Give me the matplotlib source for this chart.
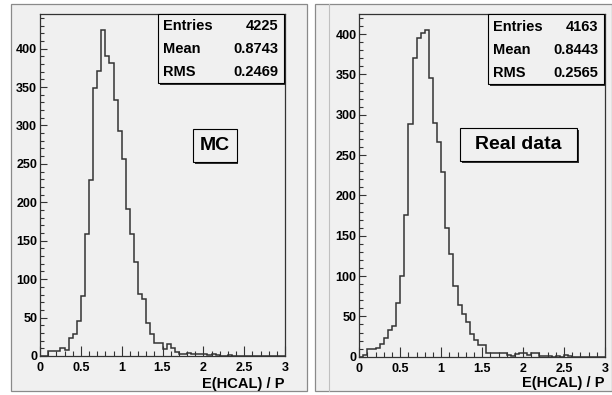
import numpy as np
import matplotlib
matplotlib.use("Agg")
import matplotlib.pyplot as plt
from matplotlib.patches import Rectangle
from matplotlib.ticker import MultipleLocator, FormatStrFormatter

# helvetica-like bold text, as in the ROOT canvas
plt.rcParams["font.family"] = ["Liberation Sans", "DejaVu Sans"]
plt.rcParams["font.weight"] = "bold"

# 60 bins of 0.05 between 0 and 3
bin_edges = np.linspace(0, 3, 61)

mc_counts = [0, 0, 6, 6, 6, 11, 8, 24, 29, 45,
             78, 159, 229, 349, 371, 424, 390, 381, 333, 293,
             256, 191, 159, 122, 81, 74, 43, 29, 17, 17,
             9, 16, 10, 5, 3, 3, 4, 2, 3, 2,
             3, 1, 2, 1, 0, 0, 1, 0, 0, 0,
             0, 0, 0, 0, 0, 0, 0, 0, 0, 0]

data_counts = [0, 2, 9, 9, 11, 16, 23, 33, 38, 67,
               100, 176, 288, 370, 395, 402, 405, 346, 290, 266,
               229, 160, 127, 88, 64, 53, 43, 28, 21, 15,
               14, 5, 5, 5, 5, 4, 2, 1, 3, 4,
               4, 2, 4, 4, 1, 1, 1, 0, 1, 0,
               2, 1, 0, 0, 0, 0, 0, 0, 0, 0]

stat_names = ["Entries", "Mean", "RMS"]
mc_stats = ["4225", "0.8743", "0.2469"]
data_stats = ["4163", "0.8443", "0.2565"]

labels = ["MC", "Real data"]
x_title = "E(HCAL) / P"

W, H = 612, 395
bg = "#f0f0f0"
line_col = "#333333"

fig = plt.figure(figsize=(W / 100, H / 100), dpi=100)
fig.patch.set_facecolor("white")


def fx(x):
    return x / W


def fy(y):
    return 1 - y / H


def box(x0, y0, x1, y1, shadow=2, lw=0.8, fc="#f0f0f0"):
    # box with ROOT-like shadow at bottom-right, pixel coords from top-left
    fig.patches.append(Rectangle((fx(x0 + shadow), fy(y1 + shadow)), fx(x1 - x0), (y1 - y0) / H,
                                 transform=fig.transFigure, facecolor="#303030",
                                 edgecolor="none", zorder=5))
    fig.patches.append(Rectangle((fx(x0), fy(y1)), fx(x1 - x0), (y1 - y0) / H,
                                 transform=fig.transFigure, facecolor=fc,
                                 edgecolor="black", linewidth=lw, zorder=6))


# the two pads
for (x0, x1) in [(11, 307), (315, 612)]:
    fig.patches.append(Rectangle((fx(x0), fy(391)), fx(x1 - x0), 387 / H,
                                 transform=fig.transFigure, facecolor=bg,
                                 edgecolor="#8a8a8a", linewidth=0.9, zorder=-2))
# faint inner frame on the right pad
fig.add_artist(plt.Line2D([fx(329), fx(329)], [fy(391), fy(4)], color="#c0c0c0",
                          linewidth=0.8, transform=fig.transFigure, zorder=-1))

panels = [
    dict(counts=mc_counts, rect=(40, 14, 285, 356), ymax=445, stats=mc_stats,
         sbox=(158, 14, 284, 83), rows=(26, 49, 72),
         lbox=(193, 129, 237, 162), ltxt=labels[0], title_y=384),
    dict(counts=data_counts, rect=(359.3, 14, 605, 356.7), ymax=425, stats=data_stats,
         sbox=(488, 14, 604, 84), rows=(27, 50, 73),
         lbox=(460, 128, 577, 161), ltxt=labels[1], title_y=383),
]

for p in panels:
    x0, y0, x1, y1 = p["rect"]
    ax = fig.add_axes([fx(x0), fy(y1), fx(x1 - x0), (y1 - y0) / H])
    ax.set_facecolor(bg)
    ax.stairs(p["counts"], bin_edges, color=line_col, linewidth=1.1)
    ax.set_xlim(0, 3)
    ax.set_ylim(0, p["ymax"])

    ax.xaxis.set_major_locator(MultipleLocator(0.5))
    ax.xaxis.set_minor_locator(MultipleLocator(0.1))
    ax.yaxis.set_major_locator(MultipleLocator(50))
    ax.yaxis.set_minor_locator(MultipleLocator(10))
    ax.xaxis.set_major_formatter(FormatStrFormatter("%g"))
    ax.tick_params(axis="x", which="major", direction="in", length=7, width=0.8,
                   color="#333333", labelsize=9, pad=4.5)
    ax.tick_params(axis="x", which="minor", direction="in", length=3.6, width=0.8,
                   color="#333333")
    ax.tick_params(axis="y", which="major", direction="in", length=5, width=0.8,
                   color="#333333", labelsize=9, pad=2)
    ax.tick_params(axis="y", which="minor", direction="in", length=2.7, width=0.8,
                   color="#333333")
    for lab in ax.get_xticklabels() + ax.get_yticklabels():
        lab.set_fontweight("bold")
    for s in ax.spines.values():
        s.set_color("#333333")
        s.set_linewidth(0.9)

    fig.text(fx(x1), fy(p["title_y"]), x_title, ha="right", va="center",
             fontsize=10.5, fontweight="bold")

    # statistics box
    sx0, sy0, sx1, sy1 = p["sbox"]
    box(sx0, sy0, sx1, sy1, shadow=2)
    for name, val, ry in zip(stat_names, p["stats"], p["rows"]):
        fig.text(fx(sx0 + 5), fy(ry), name, ha="left", va="center",
                 fontsize=10.5, fontweight="bold", zorder=7)
        fig.text(fx(sx1 - 6), fy(ry), val, ha="right", va="center",
                 fontsize=10.5, fontweight="bold", zorder=7)

    # label box
    lx0, ly0, lx1, ly1 = p["lbox"]
    box(lx0, ly0, lx1, ly1, shadow=1.5)
    fig.text(fx((lx0 + lx1) / 2), fy((ly0 + ly1) / 2), p["ltxt"], ha="center",
             va="center", fontsize=14, fontweight="bold", zorder=7)

fig.savefig("out.png", dpi=100, facecolor=fig.get_facecolor())
